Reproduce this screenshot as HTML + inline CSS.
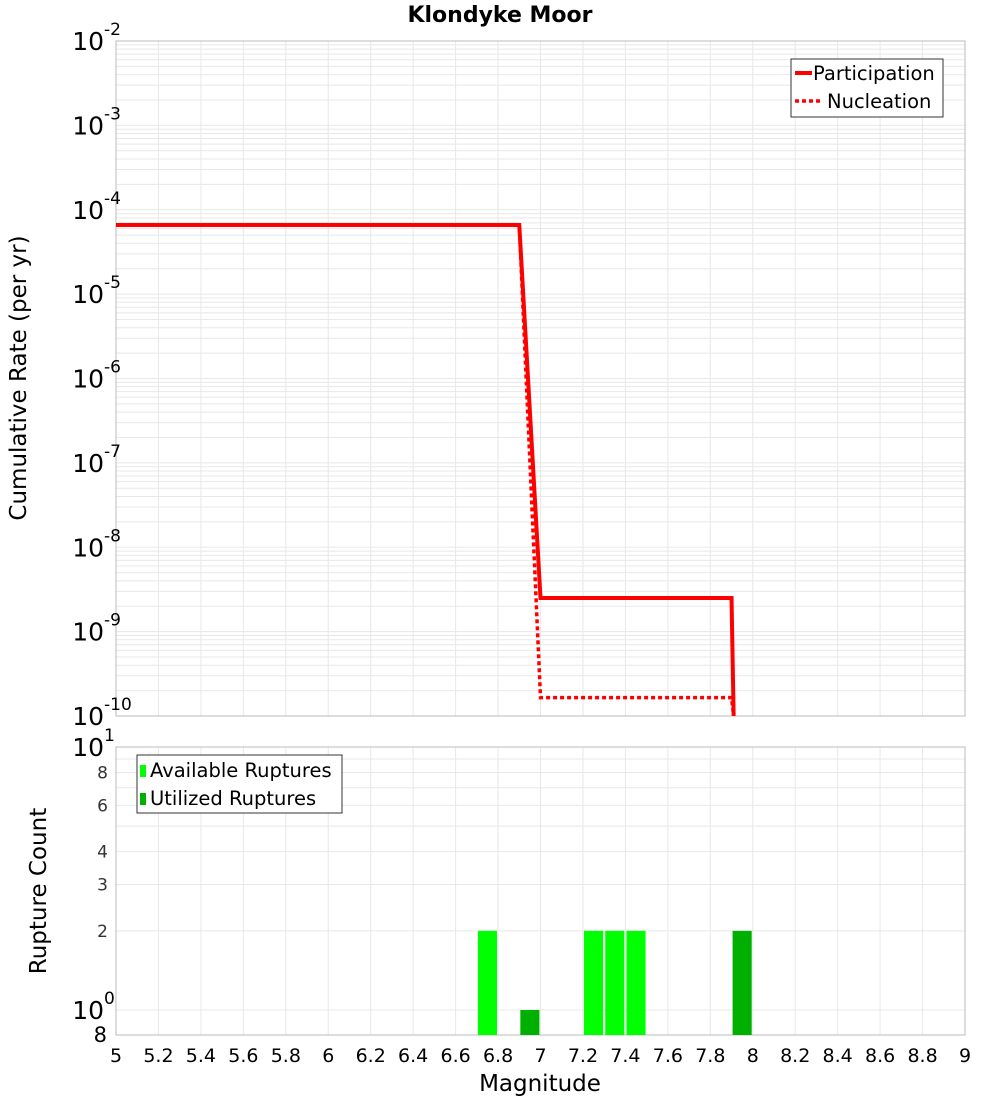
<!DOCTYPE html>
<html><head><meta charset="utf-8"><style>
body{margin:0;background:#fff;font-family:"Liberation Sans","DejaVu Sans",sans-serif}
</style></head><body>
<svg id="c" width="1000" height="1100" xmlns="http://www.w3.org/2000/svg" font-family="DejaVu Sans, Liberation Sans, sans-serif">
<rect width="1000" height="1100" fill="#fff"/>
<text x="500" y="22" text-anchor="middle" font-size="22" font-weight="bold">Klondyke Moor</text>
<g id="g"></g>
</svg>
<script>
const partMag=[5,6.9,7.0,7.9,7.91];
const partRate=[6.6e-5,6.6e-5,2.5e-9,2.5e-9,5e-11];
const nuclMag=[5,6.9,7.0,7.9,7.91];
const nuclRate=[6.6e-5,6.6e-5,1.65e-10,1.65e-10,5e-11];
const availMag=[6.75,7.25,7.35,7.45];
const availCount=[2,2,2,2];
const utilMag=[6.95,7.95];
const utilCount=[1,2];
const xTicks=[5,5.2,5.4,5.6,5.8,6,6.2,6.4,6.6,6.8,7,7.2,7.4,7.6,7.8,8,8.2,8.4,8.6,8.8,9];
const topExp=[-2,-3,-4,-5,-6,-7,-8,-9,-10];
const botTicks=[8,6,4,3,2];

const NS="http://www.w3.org/2000/svg";
const g=document.getElementById('g');
const L=116,R=965,T1=41,B1=716,T2=747,B2=1035;
const x=m=>L+(m-5)/4*(R-L);
const y1=v=>T1+(-2-Math.log10(v))*(B1-T1)/8;
const y2=v=>1010-Math.log10(v)*263;
function el(t,a,p){const e=document.createElementNS(NS,t);for(const k in a)e.setAttribute(k,a[k]);(p||g).appendChild(e);return e;}
for(let d=-10;d<-2;d++)for(let k=1;k<10;k++){const v=k*Math.pow(10,d);const yy=y1(v);
 const e=el('line',{x1:L,x2:R,y1:yy,y2:yy,stroke:'#e8e8e8','stroke-width':1});
 }
for(let k=1;k<=10;k++){const yy=y2(k);const e=el('line',{x1:L,x2:R,y1:yy,y2:yy,stroke:'#e8e8e8'});
 }
xTicks.forEach(m=>{
 const e=el('line',{x1:x(m),x2:x(m),y1:T1,y2:B1,stroke:'#e8e8e8'});
 
 const f=el('line',{x1:x(m),x2:x(m),y1:T2,y2:B2,stroke:'#e8e8e8'});
 
 const t=el('text',{x:x(m),y:1062,'text-anchor':'middle','font-size':19});t.textContent=String(m);
 
});
el('rect',{x:L,y:T1,width:R-L,height:B1-T1,fill:'none',stroke:'#bbb'});
el('rect',{x:L,y:T2,width:R-L,height:B2-T2,fill:'none',stroke:'#bbb'});
topExp.forEach(e=>{const yy=y1(Math.pow(10,e));
 const t=el('text',{x:104,y:yy+9,'text-anchor':'end','font-size':25});t.textContent='10';
 
 const s=el('text',{x:104,y:yy-6,'font-size':17});s.textContent=String(e);
 });
[[10,'1'],[1,'0']].forEach(([v,ex])=>{const yy=y2(v);
 const t=el('text',{x:104,y:yy+9,'text-anchor':'end','font-size':25});t.textContent='10';
 
 const s=el('text',{x:104,y:yy-6,'font-size':17});s.textContent=ex;
 });
botTicks.forEach(v=>{const yy=y2(v);const t=el('text',{x:108,y:yy+6,'text-anchor':'end','font-size':17,fill:'#333'});t.textContent=String(v);
 });
{const t=el('text',{x:107,y:1042,'text-anchor':'end','font-size':21});t.textContent='8';
 }
function path(ms,vs){return ms.map((m,i)=>(i?'L':'M')+x(m)+','+Math.min(y1(vs[i]),B1)).join(' ');}
const cp=el('clipPath',{id:'cl'},document.getElementById('c'));el('rect',{x:L,y:T1,width:R-L,height:B1-T1},cp);
let p=el('path',{d:path(nuclMag,nuclRate),fill:'none',stroke:'#f00','stroke-width':3.5,'stroke-dasharray':'4,3','clip-path':'url(#cl)'});

p=el('path',{d:path(partMag,partRate),fill:'none',stroke:'#f00','stroke-width':4,'clip-path':'url(#cl)'});

const bw=0.09;
availMag.forEach((m,i)=>{const r=el('rect',{x:x(m-bw/2),y:y2(availCount[i]),width:x(m+bw/2)-x(m-bw/2),height:B2-y2(availCount[i]),fill:'#00ff00'});
 });
utilMag.forEach((m,i)=>{const r=el('rect',{x:x(m-bw/2),y:y2(utilCount[i]),width:x(m+bw/2)-x(m-bw/2),height:B2-y2(utilCount[i]),fill:'#00b000'});
 });
</script>
<svg style="position:absolute;left:0;top:0" width="1000" height="1100" font-family="DejaVu Sans, Liberation Sans, sans-serif">
<g>
<rect x="791" y="59" width="152" height="58" fill="#fff" stroke="#333"/>
<line x1="795" y1="73" x2="812" y2="73" stroke="#f00" stroke-width="4"/>
<text x="813" y="80" font-size="19.5">Participation</text>
<line x1="795" y1="101" x2="822" y2="101" stroke="#f00" stroke-width="3.5" stroke-dasharray="4,3"/>
<text x="827" y="108" font-size="19.5">Nucleation</text>
</g>
<g>
<rect x="137" y="755" width="205" height="58" fill="#fff" stroke="#333"/>
<rect x="140" y="765" width="6" height="12" fill="#00ff00"/>
<text x="150" y="777" font-size="19.5">Available Ruptures</text>
<rect x="140" y="793" width="6" height="12" fill="#00b000"/>
<text x="150" y="805" font-size="19.5">Utilized Ruptures</text>
</g>
<text transform="translate(26,378) rotate(-90)" text-anchor="middle" font-size="23">Cumulative Rate (per yr)</text>
<text transform="translate(46,891) rotate(-90)" text-anchor="middle" font-size="23">Rupture Count</text>
<text x="540" y="1091" text-anchor="middle" font-size="23">Magnitude</text>
</svg>
</body></html>
